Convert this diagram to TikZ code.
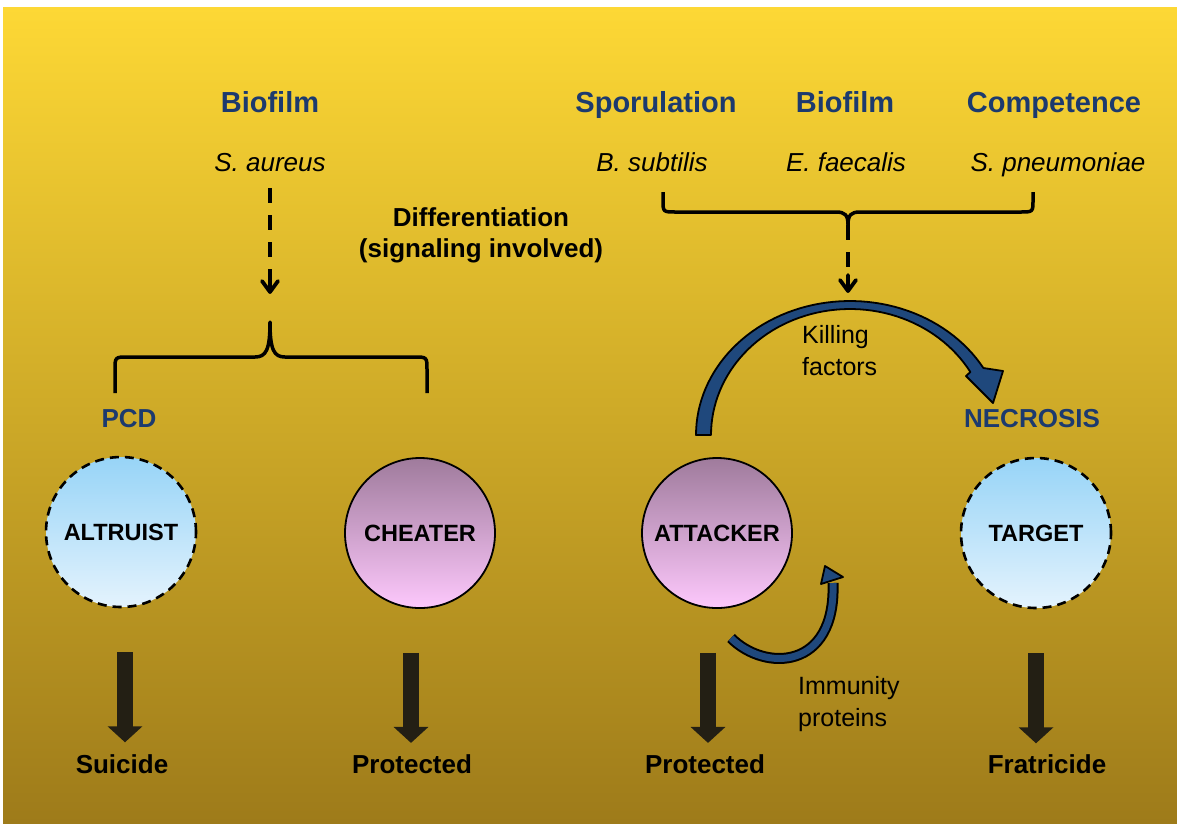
\documentclass[tikz,border=0pt]{standalone}
\usepackage{fontspec}
\setmainfont{Liberation Sans}
\usepackage{tikz}
\usetikzlibrary{positioning,arrows.meta}

\definecolor{bgtop}{HTML}{FDD835}
\definecolor{bgbot}{HTML}{9E7B1A}
\definecolor{navytxt}{HTML}{1C3A6E}
\definecolor{arcblue}{HTML}{1F487C}
\definecolor{bluetop}{HTML}{97D4F7}
\definecolor{bluebot}{HTML}{E4F3FD}
\definecolor{pinktop}{HTML}{9F7B9C}
\definecolor{pinkbot}{HTML}{FDC8FC}
\definecolor{arrdark}{HTML}{231F14}

\begin{document}
\begin{tikzpicture}[x=1pt,y=-1pt,
  cell/.style={circle, minimum size=150pt, inner sep=0pt, font=\fontsize{23.5}{27}\selectfont\bfseries},
  dying/.style={cell, draw=black, line width=2.6pt, dash pattern=on 9pt off 6pt, top color=bluetop, bottom color=bluebot},
  living/.style={cell, draw=black, line width=1.8pt, top color=pinktop, bottom color=pinkbot},
  proc/.style={anchor=base, inner sep=0pt, text=navytxt, font=\fontsize{29}{34}\selectfont\bfseries},
  species/.style={anchor=base, inner sep=0pt, font=\fontsize{26}{30}\selectfont\itshape},
  fate/.style={anchor=base, inner sep=0pt, font=\fontsize{26}{31}\selectfont\bfseries},
  note/.style={anchor=west, inner sep=0pt, align=left, font=\fontsize{25}{32}\selectfont},
  blockarr/.style={draw=arrdark, line width=16pt, -{Triangle[width=34pt,length=16pt]}},
  sigline/.style={line width=3.2pt, dash pattern=on 15pt off 12pt},
  sighead/.style={line width=3.8pt, line cap=round, line join=round},
  brc/.style={line width=3.5pt, line join=round},
  kill/.style={fill=arcblue, draw=black, line width=1.8pt, line join=round}]
\useasboundingbox (0,0) rectangle (1177,823);
\path[top color=bgtop, bottom color=bgbot] (3,7) rectangle (1177,823);

\node[proc] (bio1) at (270,112) {Biofilm}; \node[proc] (spor) at (656,112) {Sporulation}; \node[proc] (bio2) at (845,112) {Biofilm}; \node[proc] (comp) at (1054,112) {Competence};
\node[species] (saur) at (270,171) {S. aureus}; \node[species] (bsub) at (652,171) {B. subtilis}; \node[species] (efae) at (846,171) {E. faecalis}; \node[species] (spne) at (1058,171) {S. pneumoniae};
\node[fate, anchor=center, align=center] (diff) at (481,235) {Differentiation\\(signaling involved)};

\coordinate (ltip) at (270,322); \coordinate (lsig) at (270,292); \coordinate (rtip) at (848,225); \coordinate (rsig) at (848,291);
\draw[sigline] ([yshift=-17pt]saur.base) -- (lsig);
\draw[sighead] (262,281) -- (lsig) -- (278,281) (lsig) -- (270,276);
\draw[brc] (115,393) -- (115,370) .. controls (115,357) and (115,357) .. (128,357) -- (255,357) .. controls (266,357) and (270,350) .. (ltip) .. controls (270,350) and (274,357) .. (285,357) -- (414,357) .. controls (427,357) and (427,357) .. (427,370) -- (427,393);
\draw[brc] (663,192) -- (663,200) .. controls (663,212) and (663,212) .. (676,212) -- (836,212) .. controls (845,212) and (848,215) .. (rtip) .. controls (848,215) and (851,212) .. (860,212) -- (1020,212) .. controls (1033,212) and (1033,212) .. (1033,200) -- (1033,192);
\draw[sigline] (rtip) -- (rsig);
\draw[sighead] (840,280) -- (rsig) -- (856,280) (rsig) -- (848,275);

\node[proc, font=\fontsize{26}{30}\selectfont\bfseries] (pcd) at (129,427) {PCD}; \node[proc, font=\fontsize{26}{30}\selectfont\bfseries] (necr) at (1032,427) {NECROSIS};

\node[dying] (alt) at (121,532) {ALTRUIST}; \node[living] (cheat) at (420,533) {CHEATER}; \node[living] (att) at (717,533) {ATTACKER}; \node[dying] (targ) at (1036,533) {TARGET};

\filldraw[kill] plot[domain=180:30, samples=60] ({850+154*cos(\x)},{435-134*sin(\x)}) -- (1003,371) -- (993,403) -- (966,376) -- plot[domain=30:180, samples=60] ({850+139*cos(\x)},{435-126*sin(\x)}) -- cycle;
\node[note] (killf) at (802,351) {Killing\\factors};

\draw[black, line width=11pt] (731,638) .. controls (765,672) and (836,670) .. (833,583);
\draw[arcblue, line width=7pt] (731,638) .. controls (765,672) and (836,670) .. (833,583);
\filldraw[kill] (821,584) -- (825,566) -- (843,577) -- cycle;
\node[note] (immun) at (798,704) {Immunity\\proteins};

\node[fate] (suic) at (122,773) {Suicide}; \node[fate] (prot1) at (412,773) {Protected}; \node[fate] (prot2) at (705,773) {Protected}; \node[fate] (frat) at (1047,773) {Fratricide};
\foreach \c/\dx in {alt/4, cheat/-9, att/-9, targ/0}
  \draw[blockarr] ([xshift=\dx pt]\c.south) ++(0,44) -- ++(0,90);
\end{tikzpicture}
\end{document}
